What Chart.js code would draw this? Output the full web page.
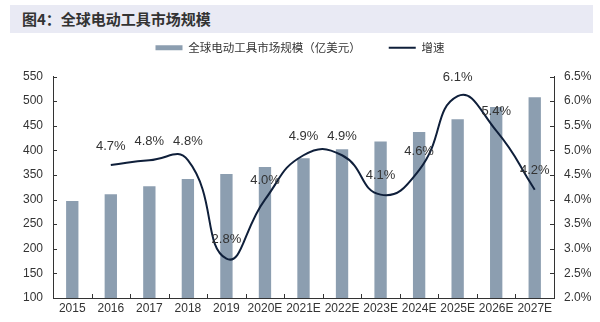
<!DOCTYPE html>
<html>
<head>
<meta charset="utf-8">
<script src="https://cdn.jsdelivr.net/npm/chart.js@4"></script>
<style>
  body { margin: 0; background: #fff; }
  #wrap { position: relative; width: 600px; height: 322px; }
  #title {
    position: absolute; left: 10px; top: 5px; width: 583px; height: 28px;
    background: #e9eaf4; color: #333;
    font: bold 15px "Noto Sans CJK SC", sans-serif; line-height: 28px;
    padding-left: 12px; box-sizing: border-box;
  }
  canvas { position: absolute; left: 0; top: 0; }
</style>
</head>
<body>
<div id="wrap">
  <div id="title">图4：全球电动工具市场规模</div>
  <canvas id="chart" width="600" height="322"></canvas>
</div>
<script>
const years = ["2015", "2016", "2017", "2018", "2019", "2020E", "2021E", "2022E", "2023E", "2024E", "2025E", "2026E", "2027E"];
const marketSize = [297, 311, 327, 342, 352, 366, 384, 402, 418, 437, 463, 488, 508];
const growth = [null, 4.7, 4.8, 4.8, 2.8, 4.0, 4.9, 4.9, 4.1, 4.6, 6.1, 5.4, 4.2];
const leftTicks = [100, 550, 50];
const rightTicks = [2, 6.5, 0.5];

const axisColor = "#333";

// inward tick marks like the excel chart
const innerTicks = {
  id: "innerTicks",
  afterInit(chart) {
    // extra room under the legend
    const lg = chart.legend;
    const fit = lg.fit.bind(lg);
    lg.fit = function () { fit(); this.height += 13; };
  },
  afterDraw(chart) {
    const ctx = chart.ctx;
    const a = chart.chartArea;
    ctx.save();
    ctx.strokeStyle = axisColor;
    ctx.lineWidth = 1;
    ctx.beginPath();
    const y = chart.scales.y;
    y.ticks.forEach((t, i) => {
      const p = Math.round(y.getPixelForTick(i)) + 0.5;
      ctx.moveTo(a.left, p);
      ctx.lineTo(a.left + 4, p);
    });
    const y1 = chart.scales.y1;
    y1.ticks.forEach((t, i) => {
      const p = Math.round(y1.getPixelForTick(i)) + 0.5;
      ctx.moveTo(a.right - 4, p);
      ctx.lineTo(a.right, p);
    });
    const w = (a.right - a.left) / years.length;
    for (let i = 1; i < years.length; i++) {
      const p = Math.round(a.left + i * w) + 0.5;
      ctx.moveTo(p, a.bottom);
      ctx.lineTo(p, a.bottom - 4);
    }
    ctx.stroke();
    ctx.restore();
  },
};

const growthLabels = {
  id: "growthLabels",
  afterDatasetsDraw(chart) {
    const ctx = chart.ctx;
    const meta = chart.getDatasetMeta(1);
    ctx.save();
    ctx.font = "13px 'Liberation Sans', Arial, sans-serif";
    ctx.fillStyle = "#333";
    ctx.textAlign = "center";
    ctx.textBaseline = "middle";
    meta.data.forEach((pt, i) => {
      if (growth[i] == null) return;
      ctx.fillText(growth[i].toFixed(1) + "%", pt.x, pt.y - 19);
    });
    ctx.restore();
  },
};

const chart = new Chart(document.getElementById("chart"), {
  data: {
    labels: years,
    datasets: [
      {
        type: "bar",
        label: "全球电动工具市场规模（亿美元）",
        data: marketSize,
        backgroundColor: "#8c9eb0",
        barPercentage: 0.32,
        categoryPercentage: 1,
        yAxisID: "y",
        pointStyle: "rect",
        order: 2,
      },
      {
        type: "line",
        label: "增速",
        data: growth,
        borderColor: "#0f1f3a",
        backgroundColor: "#0f1f3a",
        borderWidth: 2,
        pointRadius: 0,
        pointStyle: "line",
        tension: 0.5,
        yAxisID: "y1",
        order: 1,
      },
    ],
  },
  options: {
    responsive: false,
    animation: false,
    layout: { padding: { top: 14 } },
    plugins: {
      legend: {
        position: "top",
        labels: {
          usePointStyle: true,
          pointStyleWidth: 27,
          boxHeight: 5,
          padding: 28,
          color: "#333",
          font: { size: 11.5, family: "'Noto Sans CJK SC', sans-serif" },
          sort: (a, b) => a.datasetIndex - b.datasetIndex,
        },
      },
      tooltip: { enabled: false },
    },
    scales: {
      x: {
        grid: { display: false, drawTicks: false },
        border: { display: true, color: axisColor },
        ticks: { color: "#333", padding: 3, maxRotation: 0, autoSkip: false, font: { size: 12, family: "'Liberation Sans', Arial" } },
        afterFit(s) { s.height = 24; },
      },
      y: {
        position: "left",
        min: leftTicks[0],
        max: leftTicks[1],
        grid: { display: false, drawTicks: false },
        border: { display: true, color: axisColor },
        ticks: { stepSize: leftTicks[2], color: "#333", padding: 10, font: { size: 12, family: "'Liberation Sans', Arial" } },
        afterFit(s) { s.width = 53; },
      },
      y1: {
        position: "right",
        min: rightTicks[0],
        max: rightTicks[1],
        grid: { display: false, drawTicks: false },
        border: { display: true, color: axisColor },
        ticks: {
          stepSize: rightTicks[2],
          color: "#333",
          padding: 10,
          font: { size: 12, family: "'Liberation Sans', Arial" },
          callback: (v) => v.toFixed(1) + "%",
        },
        afterFit(s) { s.width = 46; },
      },
    },
  },
  plugins: [innerTicks, growthLabels],
});
</script>
</body>
</html>
